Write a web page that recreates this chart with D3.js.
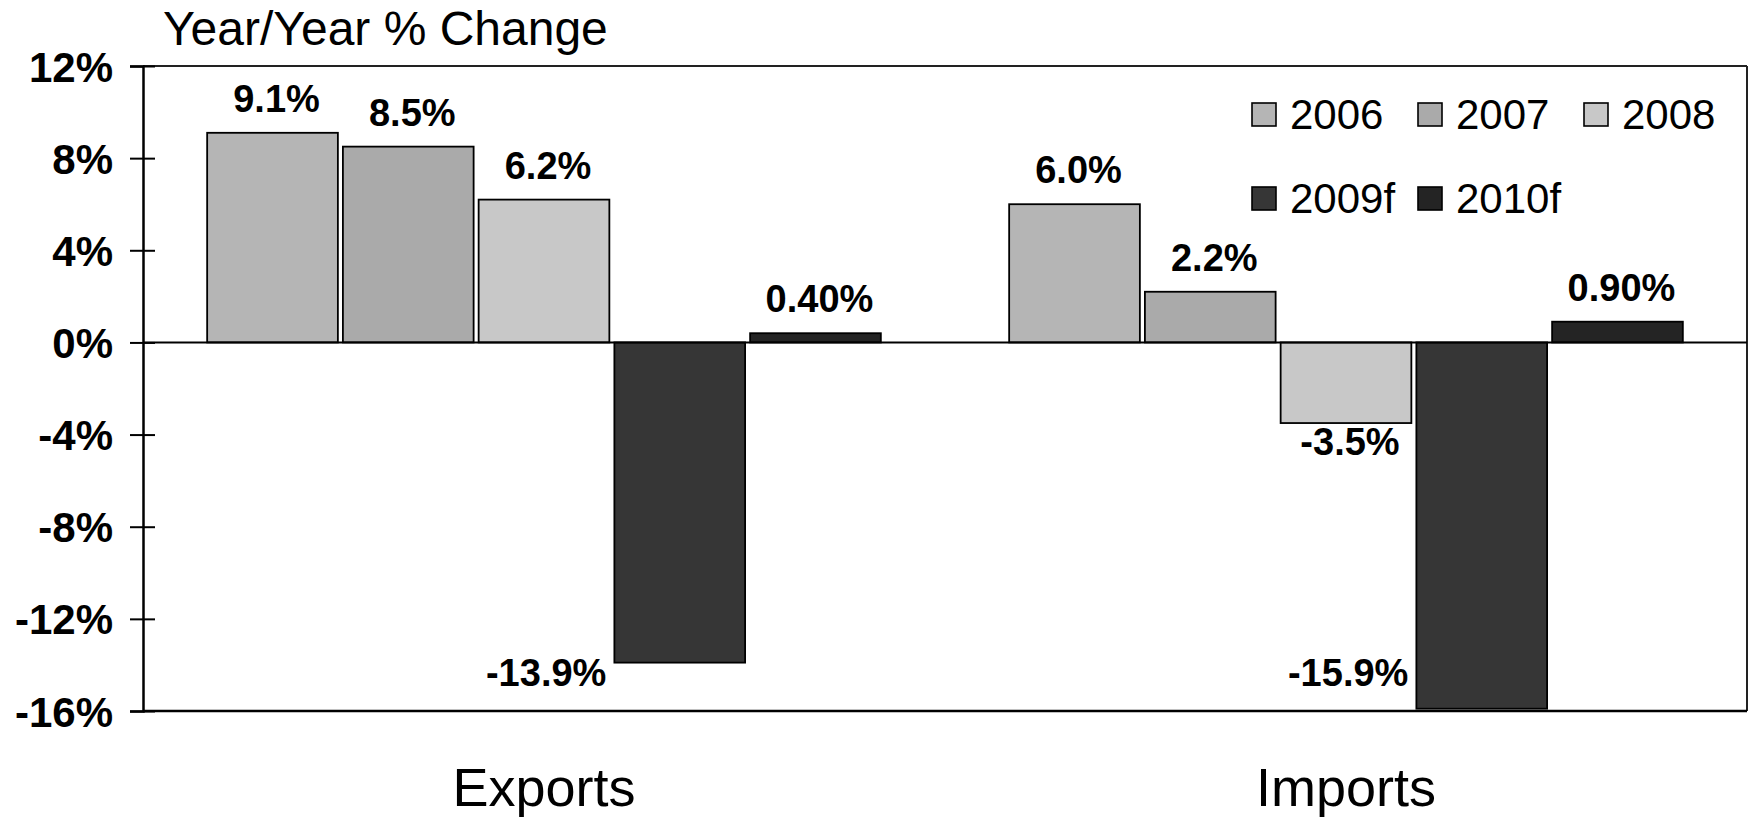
<!DOCTYPE html>
<html>
<head>
<meta charset="utf-8">
<script src="https://cdn.jsdelivr.net/npm/d3@7"></script>
<style>
  body { margin: 0; background: #fff; }
  text { font-family: "Liberation Sans", Arial, sans-serif; }
</style>
</head>
<body>
<svg width="1758" height="822"></svg>
<script>
// data
var categories = ["Exports", "Imports"];
var years = ["2006", "2007", "2008", "2009f", "2010f"];
var exportsVals = [9.1, 8.5, 6.2, -13.9, 0.4];
var importsVals = [6.0, 2.2, -3.5, -15.9, 0.9];
var valueLabels = [["9.1%", "8.5%", "6.2%", "-13.9%", "0.40%"],
                   ["6.0%", "2.2%", "-3.5%", "-15.9%", "0.90%"]];
var yTicks = [12, 8, 4, 0, -4, -8, -12, -16];
var colors = ["#b5b5b5", "#aaaaaa", "#c8c8c8", "#363636", "#242424"];

var svg = d3.select("svg"),
    margin = {top: 66, right: 11, bottom: 111, left: 143},
    width = +svg.attr("width") - margin.left - margin.right,
    height = +svg.attr("height") - margin.top - margin.bottom;

var g = svg.append("g").attr("transform", "translate(" + margin.left + "," + margin.top + ")");

var rows = [];
categories.forEach(function(c, ci) {
  var vals = ci == 0 ? exportsVals : importsVals;
  years.forEach(function(yr, i) {
    rows.push({cat: c, year: yr, i: i, value: vals[i], label: valueLabels[ci][i]});
  });
});

var x0 = d3.scaleBand()
    .domain(categories)
    .range([0, width])
    .paddingInner(0.16)
    .paddingOuter(0.08);

var x1 = d3.scaleBand()
    .domain(years)
    .range([0, x0.bandwidth()])
    .paddingInner(0.037);

var y = d3.scaleLinear()
    .domain([-16, 12])
    .range([height, 0]);

var color = d3.scaleOrdinal().domain(years).range(colors);

// frame (top + right + bottom)
g.append("line").attr("x1", 0).attr("x2", width).attr("y1", 0).attr("y2", 0)
    .attr("stroke", "#222").attr("stroke-width", 2);
g.append("line").attr("x1", width).attr("x2", width).attr("y1", 0).attr("y2", height)
    .attr("stroke", "#222").attr("stroke-width", 2);
g.append("line").attr("x1", 0).attr("x2", width).attr("y1", height).attr("y2", height)
    .attr("stroke", "#000").attr("stroke-width", 2.5);

// bars
g.append("g").selectAll("rect")
  .data(rows)
  .enter().append("rect")
    .attr("x", function(d) { return x0(d.cat) + x1(d.year); })
    .attr("y", function(d) { return y(Math.max(0, d.value)); })
    .attr("width", x1.bandwidth())
    .attr("height", function(d) { return Math.abs(y(d.value) - y(0)); })
    .attr("fill", function(d) { return color(d.year); })
    .attr("stroke", "#000")
    .attr("stroke-width", 1.8);

// zero line
g.append("line").attr("x1", 0).attr("x2", width).attr("y1", y(0)).attr("y2", y(0))
    .attr("stroke", "#000").attr("stroke-width", 2);

// y axis
var yAxis = g.append("g")
    .call(d3.axisLeft(y).tickValues(yTicks).tickSize(13).tickFormat(function(d) { return d + "%"; }));
yAxis.select(".domain").attr("stroke", "#000").attr("stroke-width", 2.5);
yAxis.selectAll(".tick line").attr("x1", 12).attr("x2", -13).attr("stroke", "#000").attr("stroke-width", 2);
yAxis.selectAll(".tick text")
    .attr("x", -30)
    .attr("dy", "0.36em")
    .style("font-size", "42px")
    .style("font-weight", "bold")
    .attr("fill", "#000");

// value labels
g.append("g").selectAll("text")
  .data(rows)
  .enter().append("text")
    .attr("x", function(d) {
      var left = x0(d.cat) + x1(d.year);
      return d.value < -10 ? left - 8 : left + x1.bandwidth() / 2 + 4;
    })
    .attr("y", function(d) {
      if (d.value >= 0) return y(d.value) - 21;
      if (d.value < -10) return Math.min(y(d.value) + 28, height - 25);
      return y(d.value) + 32;
    })
    .attr("text-anchor", function(d) { return d.value < -10 ? "end" : "middle"; })
    .style("font-size", "38px")
    .style("font-weight", "bold")
    .text(function(d) { return d.label; });

// category labels
g.append("g").selectAll("text")
  .data(categories)
  .enter().append("text")
    .attr("x", function(d) { return x0(d) + x0.bandwidth() / 2; })
    .attr("y", height + 95)
    .attr("text-anchor", "middle")
    .style("font-size", "54px")
    .text(function(d) { return d; });

// title
svg.append("text")
    .attr("x", 163)
    .attr("y", 45)
    .style("font-size", "48px")
    .text("Year/Year % Change");

// legend
var legend = svg.append("g").selectAll("g")
  .data(years)
  .enter().append("g")
    .attr("transform", function(d, i) {
      return "translate(" + (1252 + (i % 3) * 166) + "," + (103 + Math.floor(i / 3) * 84) + ")";
    });

legend.append("rect")
    .attr("width", 24)
    .attr("height", 23)
    .attr("fill", function(d) { return color(d); })
    .attr("stroke", "#000")
    .attr("stroke-width", 1.6);

legend.append("text")
    .attr("x", 38)
    .attr("y", 26)
    .style("font-size", "42px")
    .text(function(d) { return d; });
</script>
</body>
</html>
